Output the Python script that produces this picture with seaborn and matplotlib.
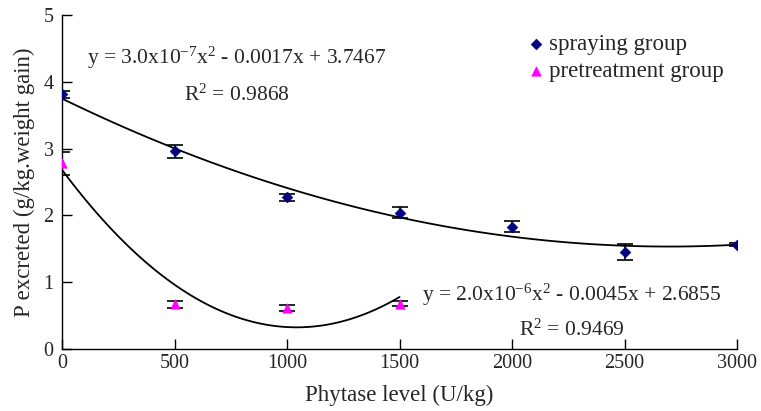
import numpy as np
import pandas as pd
import matplotlib
matplotlib.use('Agg')
import matplotlib.pyplot as plt
import seaborn as sns

# dados
dose_spray = [0, 500, 1000, 1500, 2000, 2500, 3000]
p_spray = [3.81, 2.96, 2.27, 2.04, 1.83, 1.45, 1.56]
err_spray = [0.05, 0.10, 0.055, 0.08, 0.085, 0.125, 0.02]

dose_pre = [0, 500, 1000, 1500]
p_pre = [2.78, 0.67, 0.62, 0.68]
err_pre = [0.17, 0.055, 0.045, 0.04]

grupos = ['spraying group', 'pretreatment group']
eq_spray = 'y = 3.0x10$^{-7}$x$^{2}$ - 0.0017x + 3.7467'
r2_spray = 'R$^{2}$ = 0.9868'
eq_pre = 'y = 2.0x10$^{-6}$x$^{2}$ - 0.0045x + 2.6855'
r2_pre = 'R$^{2}$ = 0.9469'

df_spray = pd.DataFrame({'dose': dose_spray, 'p': p_spray, 'err': err_spray})
df_pre = pd.DataFrame({'dose': dose_pre, 'p': p_pre, 'err': err_pre})

sns.set_style('ticks')
plt.rcParams['font.family'] = ['Liberation Serif', 'DejaVu Serif']
plt.rcParams['mathtext.default'] = 'regular'
plt.rcParams['xtick.direction'] = 'in'
plt.rcParams['ytick.direction'] = 'in'

fig = plt.figure(figsize=(7.61, 4.11), dpi=100)
ax = fig.add_axes([0.0815, 0.151, 0.887, 0.8125])

# linhas de tendencia (polinomio de ordem 2)
sns.regplot(data=df_spray, x='dose', y='p', order=2, ci=None, scatter=False,
            line_kws={'color': 'black', 'lw': 1.3}, ax=ax)
sns.regplot(data=df_pre, x='dose', y='p', order=2, ci=None, scatter=False,
            line_kws={'color': 'black', 'lw': 1.3}, ax=ax)

# barras de erro
ax.errorbar(df_spray['dose'], df_spray['p'], yerr=df_spray['err'], fmt='none',
            ecolor='black', elinewidth=1.2, capsize=5.5, capthick=1.2)
ax.errorbar(df_pre['dose'], df_pre['p'], yerr=df_pre['err'], fmt='none',
            ecolor='black', elinewidth=1.2, capsize=5.5, capthick=1.2)

# pontos
sns.scatterplot(data=df_spray, x='dose', y='p', marker='D', color='#000080',
                s=30, edgecolor='#000080', label=grupos[0], ax=ax, zorder=5)
sns.scatterplot(data=df_pre, x='dose', y='p', marker='^', color='#ff00ff',
                s=45, edgecolor='#ff00ff', label=grupos[1], ax=ax, zorder=5)

ax.text(778, 4.36, eq_spray, ha='center', va='center', fontsize=15.5)
ax.text(778, 3.80, r2_spray, ha='center', va='center', fontsize=15.5)
ax.text(2267, 0.81, eq_pre, ha='center', va='center', fontsize=15.5)
ax.text(2267, 0.28, r2_pre, ha='center', va='center', fontsize=15.5)

ax.set_xlim(0, 3000)
ax.set_ylim(0, 5)
ax.set_xticks([0, 500, 1000, 1500, 2000, 2500, 3000])
ax.set_yticks([0, 1, 2, 3, 4, 5])
ax.tick_params(labelsize=14.5, length=7, width=1, color='black')
ax.tick_params(axis='y', pad=6)
ax.set_xlabel('Phytase level (U/kg)', fontsize=16.5, labelpad=9)
ax.set_ylabel('P excreted (g/kg.weight gain)', fontsize=16.5, labelpad=6)
for s in ['left', 'bottom']:
    ax.spines[s].set_color('black')
    ax.spines[s].set_linewidth(1)
sns.despine(ax=ax)

ax.legend(loc='upper left', bbox_to_anchor=(0.67, 0.97), frameon=False,
          fontsize=16.5, handletextpad=0.0, labelspacing=0.25, borderaxespad=0,
          handlelength=1.1)

plt.savefig('out.png', dpi=100)
